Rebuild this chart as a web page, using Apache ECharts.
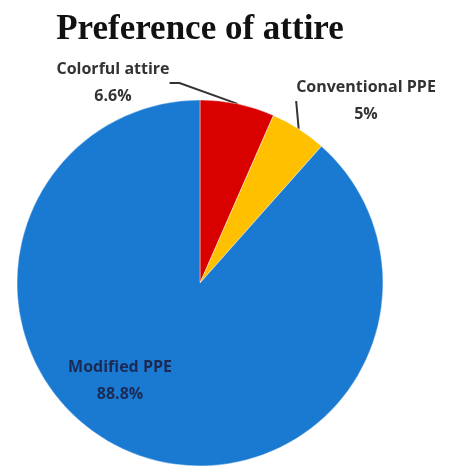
<!DOCTYPE html>
<html><head><meta charset="utf-8">
<script src="https://cdn.jsdelivr.net/npm/echarts@6/dist/echarts.min.js"></script>
<style>html,body{margin:0;padding:0;background:#fff}#c{width:452px;height:467px}</style>
</head><body><div id="c"></div>
<script>
const categories = ['Colorful attire', 'Conventional PPE', 'Modified PPE'];
const values = [6.6, 5, 88.8];
const colors = ['#d90000', '#ffc000', '#1a7ad2'];
const labelColors = ['#333333', '#333333', '#1b2a55'];
const labelPos = [[113, 83], [366, 101], [120, 381]];

const chart = echarts.init(document.getElementById('c'));
chart.setOption({
  animation: false,
  title: {
    text: 'Preference of attire', left: 195, top: 7, textAlign: 'center',
    textStyle: {fontFamily: 'Liberation Serif', fontWeight: 'bold', fontSize: 35, color: '#111'}
  },
  series: [{
    type: 'pie',
    center: [200, 283],
    radius: 183,
    startAngle: 90,
    clockwise: true,
    data: categories.map((n, i) => ({
      name: n, value: values[i],
      itemStyle: {color: colors[i]},
      label: {color: labelColors[i]},
      labelLine: {show: i < 2}
    })),
    itemStyle: {borderColor: 'rgba(255,255,255,0.4)', borderWidth: 1},
    label: {
      show: true,
      formatter: p => p.name + '\n' + p.value + '%',
      fontFamily: 'Open Sans', fontWeight: 'bold', fontSize: 16, lineHeight: 27,
      align: 'center', overflow: 'none'
    },
    labelLine: {lineStyle: {color: '#333', width: 2}, length: 20, length2: 10},
    labelLayout: p => ({
      x: labelPos[p.dataIndex][0], y: labelPos[p.dataIndex][1],
      align: 'center', verticalAlign: 'middle'
    })
  }]
});
</script></body></html>
